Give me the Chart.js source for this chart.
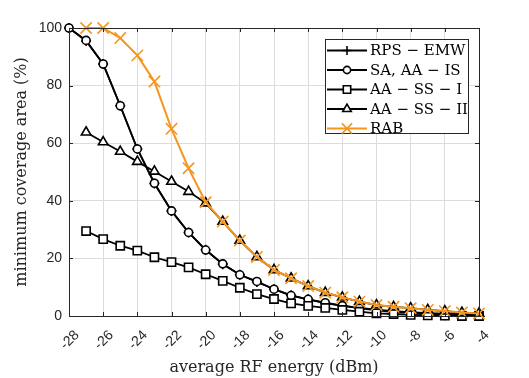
<!DOCTYPE html>
<html>
<head>
<meta charset="utf-8">
<script src="https://cdn.jsdelivr.net/npm/chart.js@4.4.1/dist/chart.umd.min.js"></script>
<style>
  html, body { margin: 0; padding: 0; background: #fff; }
  #wrap { width: 529px; height: 378px; }
</style>
</head>
<body>
<div id="wrap"><canvas id="c" width="529" height="378"></canvas></div>
<script>
// ---- data ----
const energy = [-28, -27, -26, -25, -24, -23, -22, -21, -20, -19, -18, -17, -16, -15, -14, -13, -12, -11, -10, -9, -8, -7, -6, -5, -4];
const seriesNames = ['RPS \u2212 EMW', 'SA, AA \u2212 IS', 'AA \u2212 SS \u2212 I', 'AA \u2212 SS \u2212 II', 'RAB'];
const rpsEmw   = [100, 95.5, 87.5, 73, 58, 46, 36.5, 29, 23, 18, 14.3, 11.8, 9.3, 7.2, 5.8, 4.5, 3.5, 2.7, 2.0, 1.4, 1.0, 0.6, 0.3, 0.1, 0.0];
const saAaIs   = [100, 95.7, 87.5, 73, 58, 46.1, 36.5, 29, 22.9, 18.1, 14.3, 12, 9.3, 7.1, 5.8, 4.6, 3.6, 2.8, 2.2, 1.7, 1.3, 1.0, 0.8, 0.6, 0.5];
const aaSsI    = [null, 29.5, 26.7, 24.4, 22.7, 20.4, 18.7, 16.9, 14.5, 12.2, 9.8, 7.6, 5.9, 4.4, 3.5, 2.8, 2.1, 1.5, 0.9, 0.7, 0.4, 0.2, 0.1, 0.0, 0.0];
const aaSsII   = [null, 63.8, 60.4, 57.1, 53.6, 50.2, 46.7, 43.2, 39.2, 32.8, 26.2, 20.5, 16, 13.1, 10.4, 8.1, 6.5, 5.0, 3.8, 3.2, 2.7, 2.1, 1.7, 1.2, 0.9];
const rab      = [null, 100, 100, 96.5, 90.5, 81.4, 65, 51.3, 39.5, 32.8, 26.2, 20.5, 16, 13.1, 10.4, 8.1, 6.5, 5.0, 3.8, 3.2, 2.7, 2.1, 1.7, 1.2, 0.9];
const xTicks = [-28, -26, -24, -22, -20, -18, -16, -14, -12, -10, -8, -6, -4];
const yTicks = [0, 20, 40, 60, 80, 100];
const xTitle = 'average RF energy (dBm)';
const yTitle = 'minimum coverage area (%)';

const ORANGE = '#F5961E';
const INK = '#262626';
const SERIF = '"DejaVu Serif", "Liberation Serif", serif';
const SANS = '"Liberation Sans", Arial, sans-serif';

function pts(vals) {
  return energy.map((x, i) => ({ x: x, y: vals[i] })).filter(p => p.y !== null);
}

const styles = [
  { color: '#000', pointStyle: 'cross', radius: 5, bg: '#000', order: 5 },
  { color: '#000', pointStyle: 'circle', radius: 4, bg: '#fff', order: 4 },
  { color: '#000', pointStyle: 'rect', radius: 5.8, bg: '#fff', order: 3 },
  { color: '#000', pointStyle: 'triangle', radius: 5.5, bg: '#fff', order: 2 },
  { color: ORANGE, pointStyle: 'crossRot', radius: 8, bg: ORANGE, order: 1 }
];
const seriesVals = [rpsEmw, saAaIs, aaSsI, aaSsII, rab];

const datasets = seriesVals.map((v, i) => ({
  label: seriesNames[i],
  data: pts(v),
  borderColor: styles[i].color,
  backgroundColor: styles[i].bg,
  pointBorderColor: styles[i].color,
  pointBackgroundColor: styles[i].bg,
  pointStyle: styles[i].pointStyle,
  pointRadius: styles[i].radius,
  pointBorderWidth: 1.6,
  borderWidth: i === 4 ? 2 : 1.8,
  tension: 0,
  clip: false,
  order: styles[i].order
}));

function drawMarker(ctx, style, r, x, y) {
  ctx.beginPath();
  if (style === 'circle') {
    ctx.arc(x, y, r, 0, Math.PI * 2);
    ctx.fill(); ctx.stroke();
  } else if (style === 'rect') {
    const s = r * Math.SQRT1_2;
    ctx.rect(x - s, y - s, 2 * s, 2 * s);
    ctx.fill(); ctx.stroke();
  } else if (style === 'triangle') {
    const h = r;
    ctx.moveTo(x, y - h);
    ctx.lineTo(x + Math.cos(Math.PI / 6) * h, y + h / 2);
    ctx.lineTo(x - Math.cos(Math.PI / 6) * h, y + h / 2);
    ctx.closePath();
    ctx.fill(); ctx.stroke();
  } else if (style === 'cross') {
    ctx.moveTo(x - r, y); ctx.lineTo(x + r, y);
    ctx.moveTo(x, y - r); ctx.lineTo(x, y + r);
    ctx.stroke();
  } else if (style === 'crossRot') {
    const d = r * Math.SQRT1_2;
    ctx.moveTo(x - d, y - d); ctx.lineTo(x + d, y + d);
    ctx.moveTo(x - d, y + d); ctx.lineTo(x + d, y - d);
    ctx.stroke();
  }
}

const framePlugin = {
  id: 'frame',
  afterDatasetsDraw(chart) {
    const ctx = chart.ctx;
    const a = chart.chartArea;
    const xs = chart.scales.x, ys = chart.scales.y;
    ctx.save();
    ctx.strokeStyle = INK;
    ctx.lineWidth = 1;
    ctx.strokeRect(Math.round(a.left) + 0.5, Math.round(a.top) + 0.5, Math.round(a.right - a.left), Math.round(a.bottom - a.top));
    ctx.beginPath();
    xTicks.forEach(t => {
      const px = Math.round(xs.getPixelForValue(t)) + 0.5;
      ctx.moveTo(px, a.bottom); ctx.lineTo(px, a.bottom - 4);
      ctx.moveTo(px, a.top); ctx.lineTo(px, a.top + 4);
    });
    yTicks.forEach(t => {
      const py = Math.round(ys.getPixelForValue(t)) + 0.5;
      ctx.moveTo(a.left, py); ctx.lineTo(a.left + 4, py);
      ctx.moveTo(a.right, py); ctx.lineTo(a.right - 4, py);
    });
    ctx.stroke();
    ctx.restore();
  },
  afterDraw(chart) {
    const ctx = chart.ctx;
    const bx = 325, by = 39, bw = 143, bh = 94, rowH = 19.5, row0 = 50.5;
    ctx.save();
    ctx.fillStyle = '#fff';
    ctx.fillRect(bx, by, bw, bh);
    ctx.strokeStyle = INK;
    ctx.lineWidth = 1;
    ctx.strokeRect(bx + 0.5, by + 0.5, bw, bh);
    ctx.font = '15px ' + SERIF;
    ctx.textBaseline = 'middle';
    seriesNames.forEach((name, i) => {
      const y = row0 + rowH * i;
      const st = styles[i];
      ctx.strokeStyle = st.color;
      ctx.fillStyle = st.bg;
      ctx.lineWidth = i === 4 ? 2 : 1.8;
      ctx.beginPath();
      ctx.moveTo(bx + 2, y); ctx.lineTo(bx + 42, y);
      ctx.stroke();
      ctx.lineWidth = 1.6;
      drawMarker(ctx, st.pointStyle, st.radius * 0.9, bx + 22, y);
      ctx.fillStyle = '#000';
      ctx.fillText(name, bx + 45, y + 1);
    });
    ctx.restore();
  }
};

new Chart(document.getElementById('c'), {
  type: 'line',
  data: { datasets: datasets },
  options: {
    responsive: false,
    animation: false,
    events: [],
    layout: { padding: { top: 28, right: 50, left: 0, bottom: 0 } },
    plugins: { legend: { display: false }, tooltip: { enabled: false } },
    scales: {
      x: {
        type: 'linear',
        min: -28, max: -4,
        afterBuildTicks(scale) { scale.ticks = xTicks.map(v => ({ value: v })); },
        afterFit(scale) { scale.height = 62; },
        ticks: {
          minRotation: 45, maxRotation: 45,
          font: { family: SANS, size: 14 },
          color: INK,
          padding: 11,
          labelOffset: 8,
          autoSkip: false
        },
        grid: { color: '#dcdcdc', lineWidth: 1, drawTicks: false },
        border: { display: false },
        title: { display: true, text: xTitle, font: { family: SERIF, size: 16 }, color: INK, padding: { top: 0, bottom: 1 } }
      },
      y: {
        min: 0, max: 100,
        afterBuildTicks(scale) { scale.ticks = yTicks.map(v => ({ value: v })); },
        afterFit(scale) { scale.width = 69; },
        ticks: {
          font: { family: SANS, size: 14 },
          color: INK,
          padding: 7
        },
        grid: { color: '#dcdcdc', lineWidth: 1, drawTicks: false },
        border: { display: false },
        title: { display: true, text: yTitle, font: { family: SERIF, size: 16 }, color: INK, padding: { top: 12, bottom: 0 } }
      }
    }
  },
  plugins: [framePlugin]
});
</script>
</body>
</html>
